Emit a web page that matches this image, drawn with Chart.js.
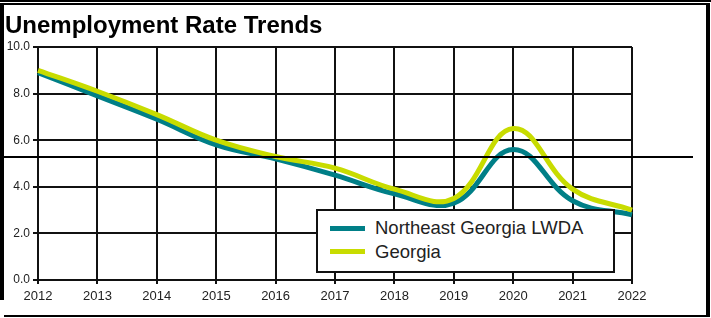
<!DOCTYPE html>
<html>
<head>
<meta charset="utf-8">
<script src="https://cdn.jsdelivr.net/npm/chart.js@4.4.1/dist/chart.umd.min.js"></script>
<style>
  html, body { margin: 0; padding: 0; background: #fff; }
  #wrap { position: relative; width: 711px; height: 318px; overflow: hidden; font-family: "Liberation Sans", Arial, sans-serif; }
  #c { position: absolute; left: 0; top: 0; }
  .bar { position: absolute; background: #000; }
  #title { position: absolute; left: 5px; top: 13px; font-size: 24px; line-height: 24px; font-weight: bold; color: #000; white-space: nowrap; }
  #legend { position: absolute; left: 316px; top: 209px; width: 295px; height: 60px; border: 2px solid #111; background: #fff; }
  .li { position: absolute; left: 0; height: 24px; width: 295px; }
  .sw { position: absolute; left: 12px; width: 35px; height: 5px; }
  .lt { position: absolute; left: 57px; font-size: 18.5px; line-height: 20px; color: #222; white-space: nowrap; }
</style>
</head>
<body>
<div id="wrap">
  <canvas id="c" width="711" height="318"></canvas>
  <div id="title">Unemployment Rate Trends</div>
  <div id="legend"></div>
  <div class="bar" style="left:0;top:0;width:711px;height:2px"></div>
  <div class="bar" style="left:0;top:3px;width:710px;height:2px"></div>
  <div class="bar" style="left:0;top:3px;width:4px;height:297px"></div>
  <div class="bar" style="left:706px;top:3px;width:4px;height:314px"></div>
  <div class="bar" style="left:4px;top:315px;width:706px;height:2px"></div>
  <div class="bar" style="left:0;top:156px;width:693px;height:2px"></div>
</div>
<script>
const years = ['2012','2013','2014','2015','2016','2017','2018','2019','2020','2021','2022'];
const seriesNames = ['Northeast Georgia LWDA', 'Georgia'];
const neGeorgia = [8.9, 7.9, 6.9, 5.8, 5.2, 4.5, 3.7, 3.3, 5.6, 3.4, 2.8];
const georgia   = [9.0, 8.1, 7.1, 6.0, 5.3, 4.8, 3.9, 3.5, 6.5, 3.9, 3.0];
const yTicks = [0, 2, 4, 6, 8, 10];
const colors = ['#007f87', '#c8dc00'];

const datasets = [
  { label: seriesNames[0], data: neGeorgia, borderColor: colors[0], order: 1 },
  { label: seriesNames[1], data: georgia, borderColor: colors[1], order: 0 }
];

const gridColor = '#111';

new Chart(document.getElementById('c'), {
  type: 'line',
  data: { labels: years, datasets: datasets },
  options: {
    responsive: false,
    animation: false,
    devicePixelRatio: 1,
    layout: { padding: { top: 47, right: 79, left: 0, bottom: 0 } },
    elements: {
      line: { tension: 0.4, borderWidth: 5, fill: false, borderCapStyle: 'butt' },
      point: { radius: 0, hoverRadius: 0 }
    },
    plugins: { legend: { display: false }, title: { display: false }, tooltip: { enabled: false } },
    scales: {
      x: {
        type: 'category',
        offset: false,
        grid: { color: gridColor, lineWidth: 2, tickLength: 4, drawOnChartArea: true },
        border: { display: true, color: gridColor, width: 2 },
        ticks: { font: { family: '"Liberation Sans", Arial, sans-serif', size: 13 }, color: '#222', padding: 5, maxRotation: 0, autoSkip: false },
        afterFit: s => { s.height = 38; }
      },
      y: {
        min: 0, max: 10,
        afterBuildTicks: s => { s.ticks = yTicks.map(v => ({ value: v })); },
        grid: { color: gridColor, lineWidth: 2, tickLength: 5 },
        border: { display: true, color: gridColor, width: 2 },
        ticks: { font: { family: '"Liberation Sans", Arial, sans-serif', size: 12 }, color: '#222', padding: 3, callback: v => Number(v).toFixed(1) },
        afterFit: s => { s.width = 38; }
      }
    }
  }
});

// legend built from the series arrays
const lg = document.getElementById('legend');
const centers = [17, 40.5];
seriesNames.forEach((name, i) => {
  const row = document.createElement('div');
  row.className = 'li';
  row.style.top = (centers[i] - 12) + 'px';
  const sw = document.createElement('div');
  sw.className = 'sw';
  sw.style.background = colors[i];
  sw.style.top = '9.5px';
  const t = document.createElement('div');
  t.className = 'lt';
  t.style.top = '2px';
  t.textContent = name;
  row.appendChild(sw); row.appendChild(t);
  lg.appendChild(row);
});
</script>
</body>
</html>
